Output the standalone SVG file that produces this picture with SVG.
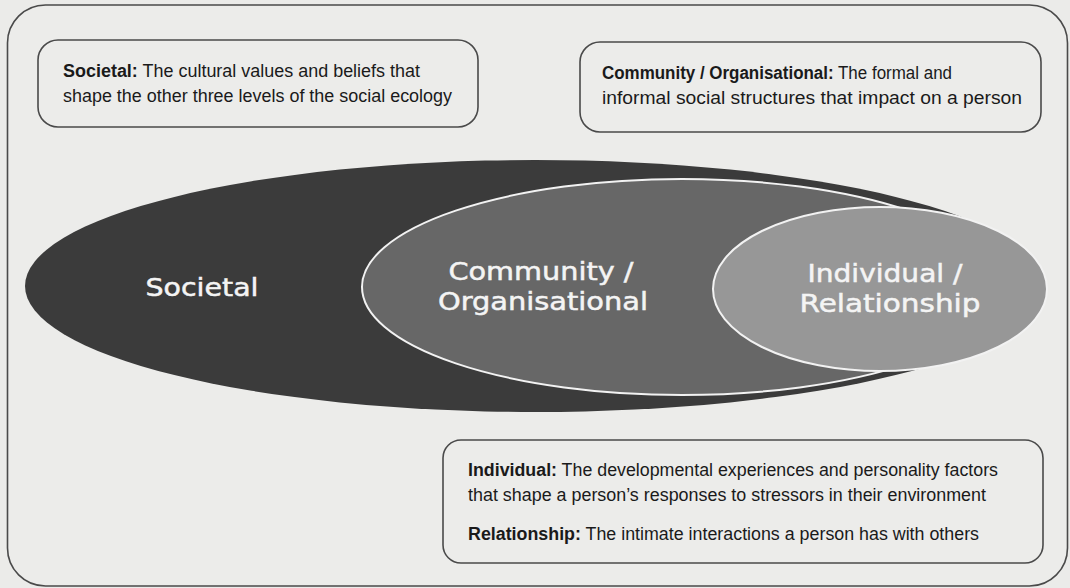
<svg xmlns="http://www.w3.org/2000/svg" width="1070" height="588" viewBox="0 0 1070 588">
<style>
.bg{fill:#ebebe9}
.frame{fill:#ececea;stroke:#4a4a4a;stroke-width:1.6}
.box{fill:none;stroke:#4a4a4a;stroke-width:1.6}
.desc{font-family:"Liberation Sans",Arial,sans-serif;font-size:17.5px;fill:#1a1a1a}
.b{font-weight:bold}
.lbl{font-family:"DejaVu Sans","Liberation Sans",sans-serif;font-size:25px;fill:#f4f4f4;stroke:#f4f4f4;stroke-width:0.5;text-anchor:middle}
.soc{fill:#3b3b3b}
.com{fill:#676767;stroke:#f2f2f2;stroke-width:2}
.ind{fill:#979797;stroke:#f2f2f2;stroke-width:2}
</style>
<rect class="bg" x="0" y="0" width="1070" height="588"/>
<rect id="frame" class="frame" x="7.5" y="5" width="1060" height="581" rx="38" ry="38"/>

<g id="node-societal">
  <ellipse class="soc" cx="535" cy="286" rx="510" ry="126"/>
  <text class="lbl" x="202" y="296" textLength="113" lengthAdjust="spacingAndGlyphs">Societal</text>
</g>
<g id="node-community">
  <ellipse class="com" cx="682" cy="287" rx="320" ry="108"/>
  <text class="lbl" x="541" y="280" textLength="185" lengthAdjust="spacingAndGlyphs">Community /</text>
  <text class="lbl" x="543" y="310" textLength="210" lengthAdjust="spacingAndGlyphs">Organisational</text>
</g>
<g id="node-individual">
  <ellipse class="ind" cx="880" cy="289" rx="167" ry="82"/>
  <text class="lbl" x="885" y="282" textLength="155" lengthAdjust="spacingAndGlyphs">Individual /</text>
  <text class="lbl" x="890" y="312" textLength="181" lengthAdjust="spacingAndGlyphs">Relationship</text>
</g>

<g id="note-societal">
  <rect class="box" x="38" y="40" width="440" height="87" rx="20" ry="20"/>
  <text class="desc" x="63" y="77" textLength="357" lengthAdjust="spacingAndGlyphs"><tspan class="b">Societal:</tspan> The cultural values and beliefs that</text>
  <text class="desc" x="63" y="102" textLength="389" lengthAdjust="spacingAndGlyphs">shape the other three levels of the social ecology</text>
</g>
<g id="note-community">
  <rect class="box" x="580" y="42" width="461" height="90" rx="20" ry="20"/>
  <text class="desc" x="602" y="79" textLength="350" lengthAdjust="spacingAndGlyphs"><tspan class="b">Community / Organisational:</tspan> The formal and</text>
  <text class="desc" x="602" y="104" textLength="420" lengthAdjust="spacingAndGlyphs">informal social structures that impact on a person</text>
</g>
<g id="note-individual">
  <rect class="box" x="443" y="440" width="600" height="123" rx="18" ry="18"/>
  <text class="desc" x="468" y="476" textLength="530" lengthAdjust="spacingAndGlyphs"><tspan class="b">Individual:</tspan> The developmental experiences and personality factors</text>
  <text class="desc" x="468" y="501" textLength="518" lengthAdjust="spacingAndGlyphs">that shape a person’s responses to stressors in their environment</text>
  <text class="desc" x="468" y="540" textLength="511" lengthAdjust="spacingAndGlyphs"><tspan class="b">Relationship:</tspan> The intimate interactions a person has with others</text>
</g>

<g id="connectors"/>
</svg>
